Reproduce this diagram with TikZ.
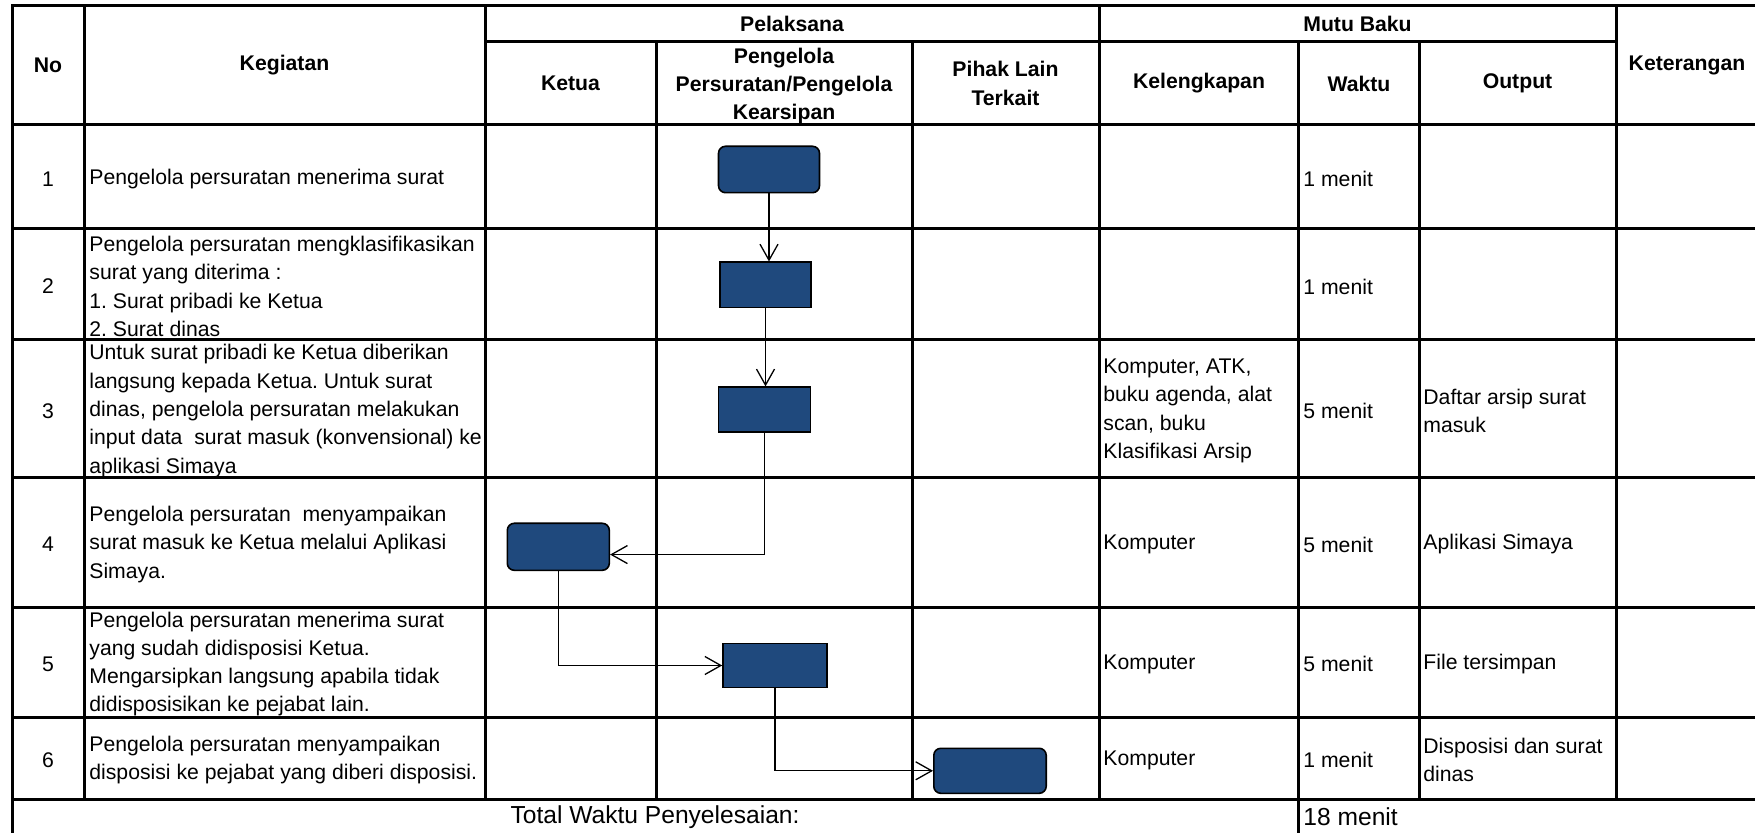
\documentclass[tikz,border=0pt]{standalone}
\usepackage{fontspec}
\setmainfont{Liberation Sans}
\usetikzlibrary{arrows.meta,calc}
\definecolor{boxblue}{RGB}{31,73,125}
\newcommand{\cellfont}{\fontsize{10.6}{14.15}\selectfont}
\newcommand{\totalfont}{\fontsize{12.3}{14}\selectfont}
\frenchspacing

\begin{document}
\begin{tikzpicture}[x=0.5pt, y=-0.5pt,
		grid/.style={line width=1.5pt, line cap=rect},
		head/.style={font=\cellfont\bfseries, align=center, inner sep=0pt},
		cell/.style={font=\cellfont, align=left, anchor=west, inner sep=0pt, yshift=-1pt},
		term/.style={draw, fill=boxblue, line width=0.8pt, rounded corners=3.5pt, inner sep=0pt},
		proc/.style={draw, fill=boxblue, line width=0.8pt, inner sep=0pt},
		flow/.style={line width=0.65pt, -{Straight Barb[length=8pt, width=9pt]}}]
		
		\useasboundingbox (0,0) rectangle (1755,833);
		
		% Row rules (full width), then the Pelaksana / Mutu Baku split
		\foreach \y in {6,125,229,340,478,607,717,799}
			\draw[grid] (12,\y) -- (1755,\y);
		\draw[grid] (485,42) -- (1616,42);
		
		% Column rules: x / top / bottom
		\foreach \x/\t/\b in {12/6/833, 84/6/799, 485/6/799, 656/42/799, 912/42/799,
			1099/6/799, 1298/42/833, 1419/42/799, 1616/6/799}
			\draw[grid] (\x,\t) -- (\x,\b);
		
		% Header
		\node[head] (hno)    at (48,65.5)    {No};
		\node[head] (hkeg)   at (284.5,65.5) {Kegiatan};
		\node[head] (hpel)   at (792,24)     {Pelaksana};
		\node[head] (hmutu)  at (1357.5,24)  {Mutu Baku};
		\node[head] (hket)   at (1687,65.5)  {Keterangan};
		\node[head] (hketua) at (570.5,83.5) {Ketua};
		\node[head] (hpeng)  at (784,86)     {Pengelola\\Persuratan/Pengelola\\Kearsipan};
		\node[head] (hpihak) at (1005.5,83.5) {Pihak Lain\\Terkait};
		\node[head] (hkel)   at (1199,83.5)  {Kelengkapan};
		\node[head] (hwkt)   at (1359,83.5)  {Waktu};
		\node[head] (hout)   at (1517.5,83.5) {Output};
		
		% No / Waktu: n / y-centre / minutes
		\foreach \n/\y/\w in {1/177/1, 2/284.5/1, 3/409/5, 4/542.5/5, 5/662/5, 6/758/1} {
			\node[font=\cellfont, inner sep=0pt, yshift=-1pt] (no\n) at (48,\y) {\n};
			\node[cell] (wkt\n) at (1303,\y) {\w\ menit};
		}
		
		% Kegiatan
		\node[cell] (keg1) at (89,177) {Pengelola persuratan menerima surat};
		\node[cell] (keg2) at (89,284.5) {Pengelola persuratan mengklasifikasikan\\surat yang diterima :\\1. Surat pribadi ke Ketua\\2. Surat dinas};
		\node[cell] (keg3) at (89,409) {Untuk surat pribadi ke Ketua diberikan\\langsung kepada Ketua. Untuk surat\\dinas, pengelola persuratan melakukan\\input data\ \ surat masuk (konvensional) ke\\aplikasi Simaya};
		\node[cell] (keg4) at (89,542.5) {Pengelola persuratan\ \ menyampaikan\\surat masuk ke Ketua melalui Aplikasi\\Simaya.};
		\node[cell] (keg5) at (89,662) {Pengelola persuratan menerima surat\\yang sudah didisposisi Ketua.\\Mengarsipkan langsung apabila tidak\\didisposisikan ke pejabat lain.};
		\node[cell] (keg6) at (89,758) {Pengelola persuratan menyampaikan\\disposisi ke pejabat yang diberi disposisi.};
		
		% Kelengkapan / Output
		\node[cell] (kel3) at (1103,409) {Komputer, ATK,\\buku agenda, alat\\scan, buku\\Klasifikasi Arsip};
		\foreach \n/\y in {4/542.5, 5/662, 6/758}
			\node[cell] (kel\n) at (1103,\y) {Komputer};
		\node[cell] (out3) at (1423,409) {Daftar arsip surat\\masuk};
		\node[cell] (out4) at (1423,542.5) {Aplikasi Simaya};
		\node[cell] (out5) at (1423,662) {File tersimpan};
		\node[cell] (out6) at (1423,758) {Disposisi dan surat\\dinas};
		
		% Total
		\node[font=\totalfont, inner sep=0pt] (tot) at (655,817) {Total Waktu Penyelesaian:};
		\node[font=\totalfont, inner sep=0pt, anchor=west] (totw) at (1303,817) {18 menit};
		
		% Flow symbols
		\node[term, minimum width=50.5pt, minimum height=23.2pt] (b1) at (769,169.5) {};
		\node[proc, minimum width=45.5pt, minimum height=22.7pt] (b2) at (765.5,285) {};
		\node[proc, minimum width=46pt, minimum height=22.5pt] (b3) at (764.5,409.7) {};
		\node[term, minimum width=51pt, minimum height=23.5pt] (b4) at (558.3,546.8) {};
		\node[proc, minimum width=52pt, minimum height=22pt] (b5) at (775,665.5) {};
		\node[term, minimum width=56.2pt, minimum height=22.5pt] (b6) at (990,770.8) {};
		
		\draw[flow] (b1.south) -- (b1.south |- b2.north);
		\draw[flow] (b2.south) -- (b2.south |- b3.north);
		\draw[flow] (b3.south) |- ($(b4.north east)!0.66!(b4.south east)$);
		\draw[flow] (b4.south) |- (b5.west);
		\draw[flow] (b5.south) |- (b6.west);
		
	\end{tikzpicture}
\end{document}
